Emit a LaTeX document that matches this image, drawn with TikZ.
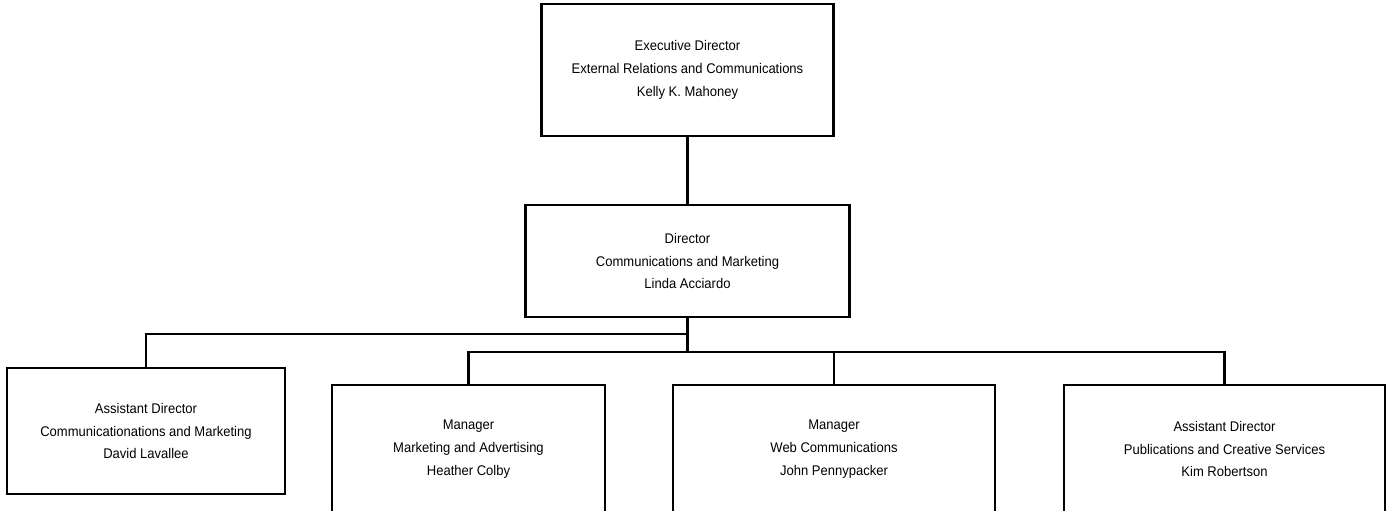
\documentclass[tikz,border=0pt]{standalone}
\usepackage{fontspec}
\setmainfont[FakeStretch=0.93]{Liberation Sans}
\begin{document}
\begin{tikzpicture}[x=1pt,y=-1pt,
  orgbox/.style={draw=black, line width=2.5pt, rectangle, inner sep=0pt, align=center,
    font=\fontsize{14}{22.7}\selectfont},
  link/.style={draw=black, line width=2.5pt}]
  \useasboundingbox (0,0) rectangle (1395,511);
  \clip (0,0) rectangle (1395,511);

  % positions
  \node[orgbox, minimum width=292pt, minimum height=132pt] (exec) at (687.5,70)
    {Executive Director\\External Relations and Communications\\Kelly K. Mahoney};
  \node[orgbox, minimum width=324pt, minimum height=112pt] (dir) at (687.5,261)
    {Director\\Communications and Marketing\\Linda Acciardo};
  \node[orgbox, minimum width=278pt, minimum height=126pt] (ad1) at (146,431)
    {Assistant Director\\Communicationations and Marketing\\David Lavallee};
  \node[orgbox, minimum width=273pt, minimum height=128pt] (mgr1) at (468.5,449)
    {Manager\\Marketing and Advertising\\Heather Colby};
  \node[orgbox, minimum width=322pt, minimum height=128pt] (mgr2) at (834,449)
    {Manager\\Web Communications\\John Pennypacker};
  \node[orgbox, minimum width=321pt, minimum height=128pt] (ad2) at (1224.5,449)
    {Assistant Director\\Publications and Creative Services\\Kim Robertson};

  % bus junctions below the director
  \coordinate (busA) at (687.5,334);
  \coordinate (busB) at (687.5,352);

  \draw[link] (exec.south) -- (dir.north);
  \draw[link] (dir.south) -- (busB);
  \draw[link] (busA) -| (ad1.north);
  \draw[link] (busB) -| (mgr1.north);
  \draw[link] (busB) -| (mgr2.north);
  \draw[link] (busB) -| (ad2.north);
\end{tikzpicture}
\end{document}
